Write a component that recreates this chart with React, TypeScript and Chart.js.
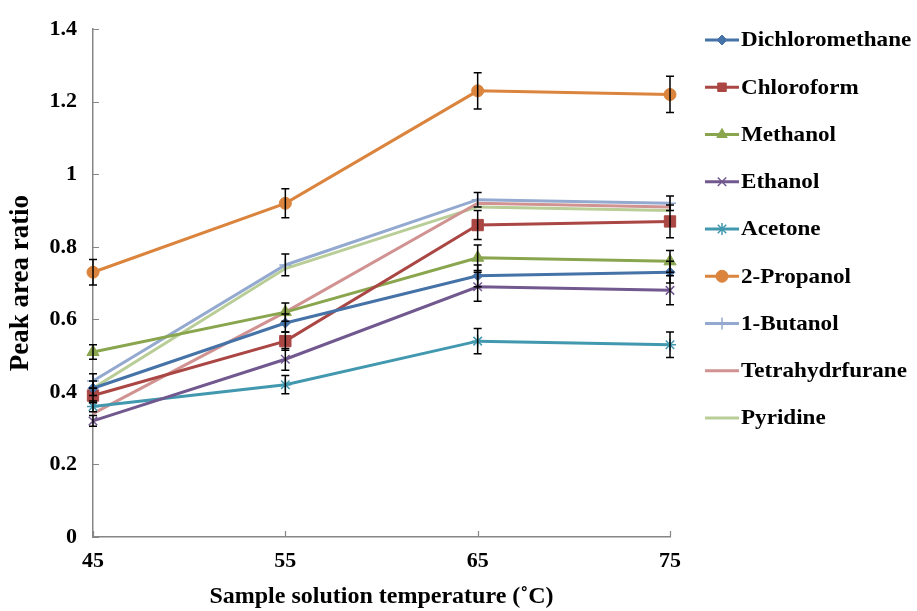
import React, { useEffect, useRef } from "react";
import { Chart, registerables } from "chart.js";
import { drawPoint } from "chart.js/helpers";

Chart.register(...registerables);

const temperatures = ["45", "55", "65", "75"];
const yTicks = [0, 0.2, 0.4, 0.6, 0.8, 1, 1.2, 1.4];

const solvents = [
  "Dichloromethane",
  "Chloroform",
  "Methanol",
  "Ethanol",
  "Acetone",
  "2-Propanol",
  "1-Butanol",
  "Tetrahydrfurane",
  "Pyridine",
];

const dichloromethane = [0.41, 0.59, 0.72, 0.73];
const chloroform = [0.39, 0.54, 0.86, 0.87];
const methanol = [0.51, 0.62, 0.77, 0.76];
const ethanol = [0.32, 0.49, 0.69, 0.68];
const acetone = [0.36, 0.42, 0.54, 0.53];
const propanol2 = [0.73, 0.92, 1.23, 1.22];
const butanol1 = [0.43, 0.75, 0.93, 0.92];
const tetrahydrfurane = [0.34, 0.62, 0.92, 0.91];
const pyridine = [0.41, 0.74, 0.91, 0.9];

const errDichloromethane = [0.02, 0.025, 0.03, 0.03];
const errChloroform = [0.02, 0.025, 0.04, 0.045];
const errMethanol = [0.02, 0.025, 0.035, 0.03];
const errEthanol = [0.015, 0.03, 0.04, 0.04];
const errAcetone = [0.015, 0.025, 0.035, 0.035];
const errPropanol2 = [0.035, 0.04, 0.05, 0.05];
const errButanol1 = [0.02, 0.03, 0.02, 0.02];
const errTetrahydrfurane = [0, 0, 0, 0];
const errPyridine = [0, 0, 0, 0];

const seriesValues = [dichloromethane, chloroform, methanol, ethanol, acetone, propanol2, butanol1, tetrahydrfurane, pyridine];
const seriesErrors = [errDichloromethane, errChloroform, errMethanol, errEthanol, errAcetone, errPropanol2, errButanol1, errTetrahydrfurane, errPyridine];
const colors = ["#4572A7", "#AA4643", "#89A54E", "#71588F", "#4198AF", "#DB843D", "#93A9CF", "#D19392", "#B9CD96"];
const pointStyles = ["rectRot", "rect", "triangle", "crossRot", "star", "circle", "cross", "circle", "circle"];
const pointRadii = [5, 8, 7, 6, 6, 6, 6, 0, 0];

const FONT = "'Liberation Serif', 'Times New Roman', serif";
const AXIS_COLOR = "#868686";

const errorBarPlugin = {
  id: "errorBars",
  afterDatasetsDraw(chart: any) {
    const ctx = chart.ctx;
    const yScale = chart.scales.y;
    ctx.save();
    ctx.strokeStyle = "#000";
    ctx.lineWidth = 1.5;
    chart.data.datasets.forEach((ds: any, i: number) => {
      const meta = chart.getDatasetMeta(i);
      const errs = ds.errors || [];
      meta.data.forEach((pt: any, j: number) => {
        const e = errs[j];
        if (!e) return;
        const v = ds.data[j];
        const yt = yScale.getPixelForValue(v + e);
        const yb = yScale.getPixelForValue(v - e);
        const x = pt.x;
        ctx.beginPath();
        ctx.moveTo(x, yt);
        ctx.lineTo(x, yb);
        ctx.moveTo(x - 4, yt);
        ctx.lineTo(x + 4, yt);
        ctx.moveTo(x - 4, yb);
        ctx.lineTo(x + 4, yb);
        ctx.stroke();
      });
    });
    ctx.restore();
  },
};

const innerTicksPlugin = {
  id: "innerTicks",
  beforeDatasetsDraw(chart: any) {
    const ctx = chart.ctx;
    const { left, bottom } = chart.chartArea;
    const xs = chart.scales.x;
    const ys = chart.scales.y;
    ctx.save();
    ctx.strokeStyle = AXIS_COLOR;
    ctx.lineWidth = 1.2;
    ctx.beginPath();
    ys.ticks.forEach((t: any) => {
      const py = Math.round(ys.getPixelForValue(t.value)) + 0.5;
      ctx.moveTo(left, py);
      ctx.lineTo(left + 6, py);
    });
    xs.ticks.forEach((t: any, i: number) => {
      const px = Math.round(xs.getPixelForTick(i)) + 0.5;
      ctx.moveTo(px, bottom);
      ctx.lineTo(px, bottom - 6);
    });
    ctx.stroke();
    ctx.restore();
  },
};

const legendPlugin = {
  id: "customLegend",
  afterDraw(chart: any) {
    const ctx = chart.ctx;
    ctx.save();
    chart.data.datasets.forEach((ds: any, i: number) => {
      const y = 40 + i * 47.25;
      ctx.strokeStyle = ds.borderColor;
      ctx.lineWidth = 3;
      ctx.beginPath();
      ctx.moveTo(705, y);
      ctx.lineTo(739, y);
      ctx.stroke();
      if (ds.pointRadius > 0) {
        ctx.fillStyle = ds.pointBackgroundColor;
        ctx.strokeStyle = ds.pointBorderColor;
        ctx.lineWidth = ds.pointBorderWidth;
        drawPoint(ctx, { pointStyle: ds.pointStyle, radius: Math.min(ds.pointRadius, 6), rotation: 0, borderWidth: ds.pointBorderWidth }, 722, y);
      }
      ctx.save();
      ctx.translate(741, y + 1);
      ctx.scale(1.1, 1);
      ctx.fillStyle = "#000";
      ctx.font = `bold 21px ${FONT}`;
      ctx.textBaseline = "middle";
      ctx.textAlign = "left";
      ctx.fillText(ds.label, 0, 0);
      ctx.restore();
    });
    ctx.restore();
  },
};

export default function App() {
  const canvasRef = useRef<HTMLCanvasElement | null>(null);

  useEffect(() => {
    if (!canvasRef.current) return;
    const datasets = solvents.map((name, i) => ({
      label: name,
      data: seriesValues[i],
      errors: seriesErrors[i],
      borderColor: colors[i],
      backgroundColor: colors[i],
      pointBackgroundColor: colors[i],
      pointBorderColor: colors[i],
      pointBorderWidth: ["crossRot", "star", "cross"].includes(pointStyles[i]) ? 1.5 : 1,
      pointStyle: pointStyles[i],
      pointRadius: pointRadii[i],
      borderWidth: 3,
      tension: 0,
      fill: false,
    }));
    const chart = new Chart(canvasRef.current, {
      type: "line",
      data: { labels: temperatures, datasets: datasets as any },
      options: {
        responsive: false,
        animation: false,
        layout: { padding: { top: 24, right: 247, left: 0, bottom: 0 } },
        plugins: {
          legend: { display: false },
          tooltip: { enabled: false },
        },
        scales: {
          x: {
            type: "category",
            offset: false,
            grid: { display: false, drawTicks: false },
            border: { display: true, color: AXIS_COLOR, width: 1.5 },
            ticks: {
              padding: 11,
              color: "#000",
              font: { family: FONT, size: 22, weight: "bold" },
              maxRotation: 0,
            },
            title: {
              display: true,
              text: "Sample solution temperature (˚C)",
              color: "#000",
              font: { family: FONT, size: 24, weight: "bold" },
              padding: { top: 0, bottom: 0 },
            },
            afterFit: (scale: any) => {
              scale.height = 74;
            },
          },
          y: {
            min: 0,
            max: 1.4,
            grid: { display: false, drawTicks: false },
            border: { display: true, color: AXIS_COLOR, width: 1.5 },
            afterBuildTicks: (scale: any) => {
              scale.ticks = yTicks.map((v) => ({ value: v }));
            },
            ticks: {
              padding: 16,
              color: "#000",
              font: { family: FONT, size: 22, weight: "bold" },
              callback: (v: any) => String(Number(Number(v).toFixed(1))),
            },
            title: {
              display: true,
              text: "Peak area ratio",
              color: "#000",
              font: { family: FONT, size: 27, weight: "bold" },
              padding: { top: 5, bottom: 0 },
            },
            afterFit: (scale: any) => {
              scale.width = 93;
            },
          },
        },
      },
      plugins: [innerTicksPlugin, errorBarPlugin, legendPlugin],
    });
    return () => chart.destroy();
  }, []);

  return (
    <div style={{ position: "fixed", left: 0, top: 0, width: 917, height: 611, background: "#fff" }}>
      <canvas ref={canvasRef} width={917} height={611} style={{ display: "block" }} />
    </div>
  );
}
